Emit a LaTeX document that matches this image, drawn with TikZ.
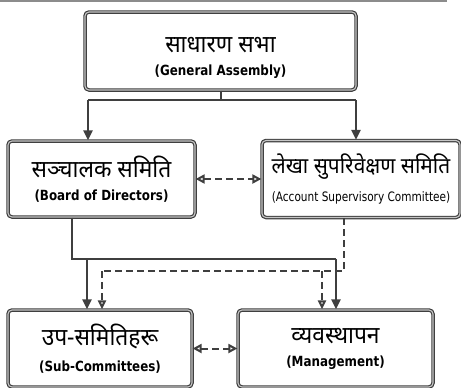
\documentclass[tikz,border=0pt]{standalone}
\usepackage{fontspec}
\setmainfont{DejaVu Sans}
\newfontfamily\devfont[Script=Devanagari,FakeStretch=0.95]{Noto Sans}
\newfontfamily\engfont[FakeStretch=0.85]{DejaVu Sans}
\newfontfamily\engnarrow[FakeStretch=0.81]{DejaVu Sans}
\usetikzlibrary{arrows.meta,positioning}

\definecolor{linegray}{HTML}{3F3F3F}
\definecolor{rulegray}{HTML}{8C8C8C}

\newcommand{\devline}[2][24]{{\devfont\fontsize{#1}{26}\selectfont #2}}
\newcommand{\engline}[1]{{\engfont\bfseries\fontsize{14}{15}\selectfont #1}}

\tikzset{
  orgbox/.style={draw=linegray, double=gray!45, double distance=1.1pt, line width=1.2pt,
    rounded corners=4pt, fill=white, align=center, inner sep=0pt},
  conn/.style={draw=linegray, line width=2pt},
  solidarrow/.style={conn, -{Triangle[length=10pt,width=9pt]}},
  dashconn/.style={draw=linegray, line width=2pt, dash pattern=on 7pt off 4pt},
  dasharrow/.style={dashconn, -{Triangle[open,fill=white,length=9pt,width=8pt]}},
  dashboth/.style={dashconn, {Triangle[open,fill=white,length=9pt,width=9pt]}-{Triangle[open,fill=white,length=9pt,width=9pt]}}
}

\begin{document}
\begin{tikzpicture}[x=1pt,y=-1pt]
\useasboundingbox (0,0) rectangle (461,388);

% rule at the top
\draw[rulegray, line width=1.5pt] (0,1) -- (447,1);

% boxes
\node[orgbox, minimum width=271pt, minimum height=78pt] (ga) at (220.5,51)
  {\rule{0pt}{30pt}\devline{साधारण सभा}\\[11pt]\engline{(General Assembly)}};
\node[orgbox, minimum width=187pt, minimum height=76pt] (bod) at (101.5,179)
  {\devline{सञ्चालक समिति}\\[11pt]\engline{(Board of Directors)}};
\node[orgbox, minimum width=198pt, minimum height=77pt] (asc) at (361,179)
  {\devline[22]{लेखा सुपरिवेक्षण समिति}\\[11pt]{\engnarrow\fontsize{13}{15}\selectfont (Account Supervisory Committee)}};
\node[orgbox, minimum width=184pt, minimum height=77pt] (sub) at (100,348.5)
  {\devline{उप-समितिहरू}\\[11pt]\engline{(Sub-Committees)}};
\node[orgbox, minimum width=195pt, minimum height=77pt] (mgmt) at (335.5,348.5)
  {\devline{व्यवस्थापन}\\[11pt]\engline{(Management)}};

% general assembly to both committees
\coordinate (gaL) at (88,100);
\coordinate (gaR) at (356,100);
\draw[conn] (ga.south) -- (ga.south |- gaL);
\draw[conn] (gaL) -- (gaR);
\draw[solidarrow] (gaL) -- (gaL |- bod.north);
\draw[solidarrow] (gaR) -- (gaR |- asc.north);

% board to sub-committees and management
\coordinate (bodT) at (72,259);
\coordinate (bodL) at (87,259);
\coordinate (bodR) at (336,259);
\draw[conn] (bodT |- bod.south) -- (bodT) -- (bodR);
\draw[solidarrow] (bodL) -- (bodL |- sub.north);
\draw[solidarrow] (bodR) -- (bodR |- mgmt.north);

% supervisory committee to sub-committees and management
\coordinate (ascT) at (344,271);
\coordinate (ascL) at (102,271);
\coordinate (ascR) at (322,271);
\draw[dashconn] (ascT |- asc.south) -- (ascT) -- (ascL);
\draw[dasharrow] (ascL) -- (ascL |- sub.north);
\draw[dasharrow] (ascR) -- (ascR |- mgmt.north);

% side links
\draw[dashboth] (bod.east) -- (asc.west);
\draw[dashboth] (sub.east) -- (mgmt.west);
\end{tikzpicture}
\end{document}
